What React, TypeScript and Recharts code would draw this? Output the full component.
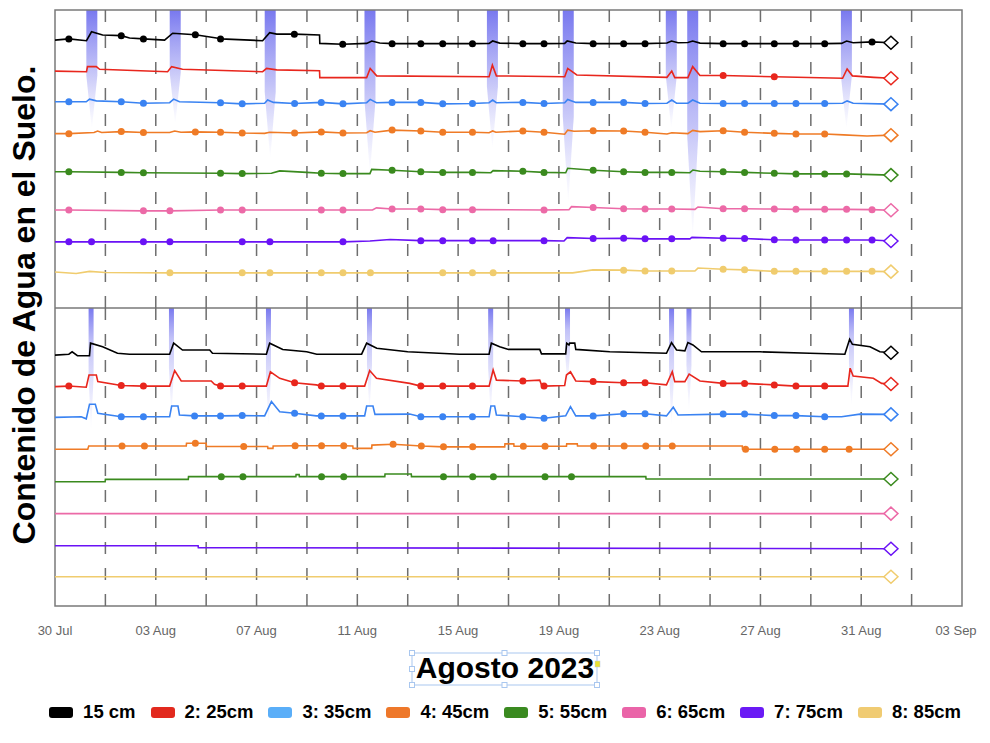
import { Bar, BarChart, ComposedChart, Line, ReferenceArea, ReferenceLine, XAxis, YAxis } from 'recharts'

// x = days since 30 Jul 2023 00:00, y = panel scale 0..100 (each depth drawn in its own band)
type Pt = [number, number, number?] // [day, value, dot]

const tickDays = [0, 4, 8, 12, 16, 20, 24, 28, 32, 36]
const tickLabels = ['30 Jul', '03 Aug', '07 Aug', '11 Aug', '15 Aug', '19 Aug', '23 Aug', '27 Aug', '31 Aug', '03 Sep']
const gridDays = [2, 4, 6, 8, 10, 12, 14, 16, 18, 20, 22, 24, 26, 28, 30, 32, 34]

const depthNames = ['15 cm', '2: 25cm', '3: 35cm', '4: 45cm', '5: 55cm', '6: 65cm', '7: 75cm', '8: 85cm']
const lineColors = ['#000000', '#e8261d', '#3a83f2', '#ef7b26', '#3a8a1e', '#ec6aa7', '#6a12f5', '#f0cc6e']
const swatchColors = ['#000000', '#e2291e', '#5aaef8', '#ee782a', '#3a8a20', '#ea64a8', '#6a1af5', '#f0cb72']

// rain (mm) - top station
const rainTopDays = [1.47, 4.78, 8.55, 12.51, 17.37, 20.38, 24.47, 25.32, 31.42]
const rainTopMm = [24, 23, 30, 33, 28, 39, 24, 46, 24]
// rain (mm) - bottom station
const rainBottomDays = [1.44, 4.63, 8.48, 12.49, 17.3, 20.35, 24.48, 25.17, 31.62]
const rainBottomMm = [25, 22, 24, 21, 22, 16, 24, 21, 20]

const top15: Pt[] = [
  [0, 89.9], [0.55, 90.3, 1], [1.25, 89.7], [1.45, 92.7], [1.89, 91.6], [2.63, 91.4, 1], [2.96, 90.6],
  [3.51, 90.3, 1], [4.35, 89.9], [4.67, 92.2], [5.57, 91.7, 1], [6.41, 90.6], [6.57, 90.3, 1], [8.24, 89.7],
  [8.52, 92.4], [8.8, 91.9], [9.5, 91.9, 1], [10.5, 91.6], [10.51, 88.8], [11.42, 88.5, 1], [12.37, 88.8],
  [12.57, 89.6], [12.89, 88.9], [13.38, 88.7, 1], [14.52, 88.7, 1], [15.39, 88.7, 1], [16.57, 88.7, 1],
  [17.23, 88.8], [17.37, 89.6], [17.65, 88.9], [18.57, 88.7, 1], [19.41, 88.7, 1], [20.23, 88.8], [20.33, 89.6],
  [20.67, 88.9], [21.36, 88.7, 1], [22.57, 88.7, 1], [23.42, 88.7, 1], [24.29, 88.9], [24.47, 89.6], [24.73, 89.0],
  [25.12, 89.1], [25.31, 89.6], [25.6, 88.9], [26.52, 88.7, 1], [27.37, 88.7, 1], [28.55, 88.7, 1], [29.41, 88.7, 1],
  [30.55, 88.7, 1], [31.22, 88.8], [31.42, 89.6], [31.68, 89.0], [32.43, 89.3, 1], [33.18, 89.0],
]
const top25: Pt[] = [
  [0, 79.5], [1.25, 79.3], [1.29, 81.0], [1.64, 81.0], [1.77, 80.1], [4.47, 79.3], [4.63, 81.0], [5.06, 80.1],
  [8.24, 79.3], [8.4, 80.4], [8.8, 79.9], [10.5, 79.6], [10.51, 77.3], [12.37, 77.3], [12.51, 80.4], [12.77, 77.9],
  [17.23, 77.6], [17.36, 81.5], [17.52, 77.9], [20.23, 77.6], [20.35, 80.4], [20.71, 78.2], [24.29, 77.4],
  [24.48, 79.5], [24.6, 77.3], [25.12, 77.3], [25.31, 81.0], [25.6, 78.0], [26.52, 78.0, 1], [28.55, 77.6, 1],
  [31.26, 77.1], [31.44, 80.2], [31.65, 77.9], [32.5, 77.4], [33.18, 77.1],
]
const top35: Pt[] = [
  [0, 69.2], [0.55, 69.2, 1], [1.24, 69.2], [1.37, 70.1], [1.64, 69.5], [2.63, 69.2, 1], [3.51, 68.7, 1],
  [4.55, 68.9], [4.71, 70.1], [4.94, 69.2], [6.57, 68.9, 1], [7.43, 68.5, 1], [8.32, 68.7], [8.44, 69.8],
  [8.67, 69.0], [9.51, 68.6, 1], [10.57, 69.0, 1], [11.43, 68.5, 1], [12.37, 68.9], [12.51, 70.0], [12.76, 68.9],
  [13.38, 69.0, 1], [14.52, 69.0, 1], [15.39, 68.5, 1], [16.57, 68.6, 1], [17.23, 68.9], [17.37, 69.8],
  [17.52, 68.9], [18.57, 69.0, 1], [19.41, 68.6, 1], [20.23, 68.9], [20.35, 70.0], [20.67, 69.0], [21.36, 69.0, 1],
  [22.57, 69.0, 1], [23.42, 68.6, 1], [24.29, 68.7], [24.48, 69.8], [24.67, 68.7], [25.12, 68.7], [25.31, 69.8],
  [25.6, 68.7], [26.52, 68.6, 1], [27.37, 68.6, 1], [28.55, 68.6, 1], [29.41, 68.6, 1], [30.55, 68.6, 1],
  [31.26, 68.7], [31.44, 69.5], [31.68, 68.7], [33.18, 68.4],
]
const top45: Pt[] = [
  [0, 58.5], [0.55, 58.5, 1], [1.55, 58.9], [1.69, 59.4], [1.85, 58.9], [2.63, 59.2, 1], [3.51, 58.9, 1],
  [4.55, 58.9], [4.75, 59.4], [5.0, 59.0], [5.57, 59.1, 1], [6.57, 59.0, 1], [7.43, 58.7, 1], [8.32, 58.6],
  [8.52, 59.0], [9.51, 58.7, 1], [10.57, 59.1, 1], [11.43, 58.7, 1], [12.37, 58.8], [12.51, 59.5], [12.7, 59.0],
  [13.38, 59.7, 1], [14.52, 59.4, 1], [15.39, 59.0, 1], [16.57, 59.0, 1], [17.23, 58.8], [17.37, 59.4],
  [17.5, 59.0], [18.57, 59.4, 1], [19.41, 59.0, 1], [20.23, 58.3], [20.35, 59.7], [20.6, 59.3], [21.36, 59.5, 1],
  [22.57, 59.4, 1], [23.42, 59.0, 1], [24.29, 58.4], [24.48, 58.8], [25.12, 58.5], [25.31, 59.6], [25.6, 59.2],
  [26.52, 59.5, 1], [27.37, 59.0, 1], [28.55, 58.6, 1], [29.41, 58.4, 1], [30.55, 58.4, 1], [31.3, 58.1],
  [32.23, 57.7], [33.18, 58.0],
]
const top55: Pt[] = [
  [0, 45.7], [0.55, 45.7, 1], [2.63, 45.5, 1], [3.51, 45.4, 1], [6.57, 45.2, 1], [7.43, 45.1, 1], [8.59, 45.2],
  [8.92, 46.0], [9.99, 45.5], [10.57, 45.2, 1], [11.43, 45.1, 1], [12.5, 45.1], [12.57, 46.5], [13.38, 46.2, 1],
  [14.52, 45.7, 1], [15.39, 45.5, 1], [16.57, 45.5, 1], [17.3, 45.4], [17.39, 46.1], [18.57, 45.9, 1],
  [19.41, 45.5, 1], [20.27, 45.4], [20.35, 46.9], [21.36, 46.2, 1], [22.57, 45.7, 1], [23.42, 45.5, 1],
  [24.48, 45.5, 1], [25.2, 45.4], [25.32, 46.3], [25.6, 45.9], [26.52, 45.7, 1], [27.37, 45.5, 1],
  [28.55, 45.2, 1], [29.41, 45.0, 1], [30.55, 45.0, 1], [31.42, 45.0, 1], [33.18, 44.6],
]
const top65: Pt[] = [
  [0, 32.9], [0.55, 32.9, 1], [3.51, 32.6, 1], [4.56, 32.6, 1], [6.57, 32.9, 1], [7.43, 32.9, 1], [10.57, 32.9, 1],
  [11.43, 32.9, 1], [12.6, 32.9], [12.76, 33.6], [13.38, 33.2, 1], [14.52, 33.2, 1], [15.39, 33.0, 1],
  [16.57, 33.0, 1], [19.41, 32.9, 1], [20.4, 33.0], [20.5, 34.0], [21.36, 33.7, 1], [22.57, 33.3, 1],
  [23.42, 33.2, 1], [24.48, 33.2, 1], [25.4, 33.1], [25.52, 33.9], [26.52, 33.3, 1], [27.37, 33.3, 1],
  [28.55, 33.2, 1], [29.41, 33.1, 1], [30.55, 33.1, 1], [31.42, 33.1, 1], [32.43, 33.0, 1], [33.18, 32.8],
]
const top75: Pt[] = [
  [0, 22.2], [0.55, 22.2, 1], [1.45, 22.2, 1], [3.51, 22.2, 1], [4.56, 22.2, 1], [7.43, 22.2, 1], [8.53, 22.2, 1],
  [11.43, 22.2, 1], [12.5, 22.5], [13.3, 23.0], [14.52, 22.6, 1], [15.39, 22.6, 1], [16.57, 22.6, 1],
  [17.39, 22.6, 1], [19.41, 22.6, 1], [20.2, 22.5], [20.33, 23.6], [21.36, 23.3, 1], [22.57, 23.4, 1],
  [23.42, 23.2, 1], [24.48, 23.2, 1], [25.2, 23.2], [25.28, 23.7], [26.52, 23.4, 1], [27.37, 23.3, 1],
  [28.55, 22.9, 1], [29.41, 22.8, 1], [30.55, 22.8, 1], [31.42, 22.8, 1], [32.43, 22.8, 1], [33.18, 22.5],
]
const top85: Pt[] = [
  [0, 12.1], [0.84, 11.6], [1.37, 12.3], [2.0, 11.9], [4.56, 11.8, 1], [7.43, 11.8, 1], [8.53, 11.8, 1],
  [10.57, 11.8, 1], [11.43, 11.8, 1], [12.52, 11.8, 1], [15.39, 11.8, 1], [16.57, 11.8, 1], [17.39, 11.8, 1],
  [20.55, 11.8], [21.35, 12.8], [22.57, 12.7, 1], [23.42, 12.4, 1], [24.48, 12.4, 1], [25.4, 12.4], [25.52, 13.4],
  [26.52, 13.0, 1], [27.37, 12.8, 1], [28.55, 12.3, 1], [29.41, 12.3, 1], [30.55, 12.3, 1], [31.42, 12.3, 1],
  [32.43, 12.3, 1], [33.18, 12.2],
]

const bot15: Pt[] = [
  [0, 84.2], [0.55, 84.5], [0.68, 85.3], [0.89, 84.0], [1.37, 84.0], [1.41, 88.2], [1.89, 87.0], [2.48, 84.8],
  [2.96, 84.5], [4.55, 84.5], [4.71, 88.2], [5.06, 85.9], [6.14, 85.9], [6.25, 84.8], [8.39, 84.5], [8.52, 88.2],
  [9.04, 86.1], [9.99, 85.3], [10.39, 84.5], [12.17, 84.5], [12.37, 88.2], [12.77, 86.5], [14.0, 85.3],
  [16.06, 84.5], [17.23, 84.5], [17.32, 88.2], [17.65, 87.0], [18.0, 86.1], [19.24, 86.1], [19.31, 84.6],
  [20.27, 84.6], [20.31, 88.2], [20.4, 87.6], [20.43, 88.2], [20.63, 88.2], [20.67, 86.1], [22.02, 85.3],
  [24.27, 84.8], [24.47, 88.4], [24.67, 85.9], [25.0, 85.6], [25.12, 88.4], [25.32, 87.6], [25.66, 85.3],
  [27.98, 85.3], [29.96, 84.8], [31.35, 84.5], [31.54, 89.5], [31.65, 87.8], [32.35, 87.0], [32.74, 85.3],
  [33.18, 85.0],
]
const bot25: Pt[] = [
  [0, 73.6], [0.55, 73.8, 1], [1.24, 73.4], [1.35, 77.5], [1.64, 77.5], [1.7, 75.3], [2.63, 74.0, 1],
  [3.51, 73.8, 1], [4.55, 73.8], [4.75, 79.0], [5.01, 75.5], [6.2, 75.5], [6.33, 74.4], [6.57, 73.8, 1],
  [7.43, 73.8, 1], [8.39, 73.8], [8.55, 78.6], [8.92, 76.4], [9.51, 74.9, 1], [10.37, 74.2], [10.57, 73.8, 1],
  [11.43, 73.8, 1], [12.29, 73.8], [12.49, 79.0], [12.76, 76.4], [14.08, 74.7], [14.52, 73.8, 1],
  [15.39, 73.8, 1], [16.57, 73.8, 1], [17.23, 73.8], [17.39, 79.2], [17.52, 75.8], [18.57, 75.5, 1],
  [19.24, 75.8], [19.31, 74.2], [19.41, 73.8, 1], [20.23, 74.0], [20.3, 77.5], [20.46, 78.6], [20.67, 75.5],
  [21.36, 75.3, 1], [22.57, 74.9, 1], [23.42, 74.9, 1], [24.27, 74.2], [24.5, 78.6], [24.6, 75.3], [25.0, 75.3],
  [25.17, 77.8], [25.6, 75.5], [26.52, 74.7, 1], [27.37, 74.7, 1], [28.55, 74.2, 1], [29.41, 73.8, 1],
  [30.55, 73.8, 1], [31.47, 73.8], [31.56, 79.8], [31.68, 77.2], [32.48, 76.4], [32.81, 74.7], [33.18, 74.5],
]
const bot35: Pt[] = [
  [0, 63.3], [1.04, 63.5], [1.24, 62.8], [1.37, 67.7], [1.6, 67.7], [1.7, 64.7], [2.63, 63.5, 1], [3.51, 63.5, 1],
  [4.55, 63.5], [4.63, 67.1], [4.88, 67.1], [4.94, 64.1], [5.54, 63.8, 1], [6.57, 63.8, 1], [7.43, 63.9, 1],
  [8.32, 63.8], [8.59, 68.6], [8.92, 65.2], [9.51, 64.7, 1], [10.37, 63.8], [10.57, 63.8, 1], [11.43, 63.8, 1],
  [12.29, 63.8], [12.37, 67.1], [12.62, 67.1], [12.7, 64.3], [14.08, 64.4], [14.52, 63.5, 1], [15.39, 63.5, 1],
  [16.57, 63.5, 1], [17.23, 63.5], [17.3, 67.1], [17.45, 67.1], [17.52, 64.1], [18.57, 63.5, 1], [19.41, 63.0, 1],
  [20.27, 63.8], [20.46, 66.9], [20.67, 63.8], [21.36, 63.8, 1], [22.57, 64.5, 1], [23.42, 64.5, 1],
  [24.27, 63.8], [24.54, 66.7], [24.73, 64.1], [26.52, 64.4, 1], [27.37, 64.4, 1], [28.55, 63.9, 1],
  [29.41, 63.9, 1], [30.55, 63.5, 1], [31.22, 63.5], [31.95, 64.4], [33.18, 64.3],
]
const bot45: Pt[] = [
  [0, 52.6], [1.3, 52.6], [1.34, 53.7], [2.66, 53.7, 1], [3.55, 53.7, 1], [5.21, 53.7], [5.22, 54.6],
  [5.57, 54.6, 1], [6.0, 54.6], [6.01, 53.5], [7.49, 53.5, 1], [8.44, 53.5], [8.45, 52.9], [8.65, 52.9],
  [8.66, 53.7], [9.53, 53.8, 1], [10.58, 53.8, 1], [11.46, 53.8, 1], [11.82, 53.7], [11.83, 52.9], [12.57, 52.9],
  [12.58, 54.0], [13.42, 54.3, 1], [14.54, 53.7, 1], [15.42, 53.4, 1], [16.58, 53.4, 1], [17.85, 53.4],
  [17.86, 54.4], [18.21, 54.4], [18.22, 53.6], [18.59, 53.6, 1], [19.45, 53.6, 1], [20.3, 53.6], [20.31, 54.4],
  [20.73, 54.4], [20.74, 53.7], [21.38, 53.7, 1], [22.59, 53.7, 1], [23.45, 53.7, 1], [24.5, 53.7, 1],
  [27.28, 53.7], [27.29, 52.6], [27.41, 52.6, 1], [28.57, 52.6, 1], [29.44, 52.6, 1], [30.55, 52.6, 1],
  [31.52, 52.6, 1], [33.18, 52.6],
]
const bot55: Pt[] = [
  [0, 41.7], [1.99, 41.7], [2.0, 42.5], [5.29, 42.5], [5.3, 43.4], [6.6, 43.4, 1], [7.46, 43.4, 1], [9.56, 43.4],
  [9.57, 44.1], [9.69, 44.1], [9.7, 43.4], [10.58, 43.4, 1], [11.46, 43.4, 1], [13.09, 43.4], [13.1, 44.3],
  [14.14, 44.3], [14.15, 43.4], [15.42, 43.4, 1], [16.58, 43.4, 1], [17.4, 43.4, 1], [19.45, 43.4, 1],
  [20.5, 43.4, 1], [23.45, 43.4], [23.46, 42.6], [33.18, 42.6],
]
const bot65: Pt[] = [[0, 31.0], [33.18, 31.0]]
const bot75: Pt[] = [[0, 20.2], [5.68, 20.2], [5.69, 19.6], [33.18, 19.2]]
const bot85: Pt[] = [[0, 9.8], [33.18, 9.8]]

const topSeries = [top15, top25, top35, top45, top55, top65, top75, top85]
const bottomSeries = [bot15, bot25, bot35, bot45, bot55, bot65, bot75, bot85]

const FONT = '"Liberation Sans", Arial, sans-serif'

const toRows = (pts: Pt[]) =>
  pts.map(([d, v, m], i) => ({ d, v, m: !!m, last: i === pts.length - 1 }))

const dotFor = (color: string) => (p: any) => {
  const { cx, cy, index, payload } = p
  if (payload.last) {
    return (
      <path
        key={index}
        d={`M${cx - 7},${cy} L${cx},${cy - 6.5} L${cx + 7},${cy} L${cx},${cy + 6.5} Z`}
        fill="#fff"
        stroke={color}
        strokeWidth={1.5}
      />
    )
  }
  if (payload.m) return <circle key={index} cx={cx} cy={cy} r={3.5} fill={color} />
  return <g key={index} />
}

// rain column hanging from the top edge, fading and tapering downwards
function RainShape(props: any) {
  const { x, y, width, height, fill } = props
  const top = Math.min(y, y + height)
  const h = Math.abs(height)
  const mid = top + h * 0.55
  const cx = x + width / 2
  return <path d={`M${x},${top} H${x + width} V${mid} L${cx},${top + h} L${x},${mid} Z`} fill={fill} />
}

function DayTick(props: any) {
  const { x, y, payload } = props
  const i = tickDays.indexOf(payload.value)
  const shift = i === tickDays.length - 1 ? -6 : 0
  return (
    <text x={x + shift} y={y + 29} textAnchor="middle" fontSize={13} fill="#666" fontFamily={FONT}>
      {tickLabels[i]}
    </text>
  )
}

type PanelProps = {
  series: Pt[][]
  rainDays: number[]
  rainMm: number[]
  gid: string
  barWidth: number
  showAxis: boolean
}

function Panel({ series, rainDays, rainMm, gid, barWidth, showAxis }: PanelProps) {
  const rain = rainDays.map((d, i) => ({ d, mm: rainMm[i] }))
  const h = showAxis ? 338 : 308
  const margin = { top: showAxis ? 0 : 10, right: 28, bottom: 0, left: 55 }
  return (
    <div style={{ position: 'relative', width: 990, height: h }}>
      {/* rain layer, kept in its own chart so the bar width isn't squeezed by the dense line points */}
      <div style={{ position: 'absolute', left: 0, top: 0 }}>
        <BarChart width={990} height={h} data={rain} margin={{ ...margin, bottom: showAxis ? 40 : 0 }}>
          <defs>
            <linearGradient id={gid} x1="0" y1="0" x2="0" y2="1">
              <stop offset="0%" stopColor="#7171ee" stopOpacity={0.95} />
              <stop offset={showAxis ? '28%' : '50%'} stopColor="#8585f0" stopOpacity={0.5} />
              <stop offset="100%" stopColor="#a5a5f5" stopOpacity={0} />
            </linearGradient>
          </defs>
          <XAxis type="number" dataKey="d" domain={[0, 36]} ticks={tickDays} hide />
          <YAxis type="number" domain={[0, 60]} reversed hide />
          <Bar dataKey="mm" barSize={barWidth} fill={`url(#${gid})`} shape={<RainShape />} isAnimationActive={false} />
        </BarChart>
      </div>
      <div style={{ position: 'absolute', left: 0, top: 0 }}>
        <ComposedChart width={990} height={h} margin={margin}>
          <XAxis
            type="number"
            dataKey="d"
            domain={[0, 36]}
            ticks={tickDays}
            interval={0}
            hide={!showAxis}
            axisLine={false}
            tickLine={false}
            tickSize={0}
            tickMargin={0}
            height={40}
            tick={<DayTick />}
          />
          <YAxis yAxisId="v" type="number" domain={[0, 100]} hide />
          {gridDays.map((d) => (
            <ReferenceLine key={d} x={d} yAxisId="v" stroke="#6e6e6e" strokeWidth={1.5} strokeDasharray="12 14" />
          ))}
          {series.map((pts, i) => (
            <Line
              key={depthNames[i]}
              name={depthNames[i]}
              data={toRows(pts)}
              dataKey="v"
              yAxisId="v"
              type="linear"
              stroke={lineColors[i]}
              strokeWidth={1.6}
              dot={dotFor(lineColors[i])}
              activeDot={false}
              isAnimationActive={false}
            />
          ))}
          <ReferenceArea
            x1={0}
            x2={36}
            y1={0}
            y2={100}
            yAxisId="v"
            fill="none"
            fillOpacity={0}
            stroke="#7a7a7a"
            strokeWidth={1.5}
            ifOverflow="visible"
          />
        </ComposedChart>
      </div>
    </div>
  )
}

export default function App() {
  return (
    <div style={{ position: 'absolute', left: 0, top: 0, width: 990, height: 743, background: '#fff', fontFamily: FONT }}>
      <div style={{ position: 'absolute', left: 0, top: 0 }}>
        <Panel series={topSeries} rainDays={rainTopDays} rainMm={rainTopMm} gid="rainTop" barWidth={11} showAxis={false} />
      </div>
      <div style={{ position: 'absolute', left: 0, top: 308 }}>
        <Panel series={bottomSeries} rainDays={rainBottomDays} rainMm={rainBottomMm} gid="rainBottom" barWidth={5} showAxis />
      </div>

      <svg width={990} height={743} style={{ position: 'absolute', left: 0, top: 0, pointerEvents: 'none' }}>
        <text
          transform="translate(35,305) rotate(-90)"
          textAnchor="middle"
          fontSize={32}
          fontWeight="bold"
          fontFamily={FONT}
          fill="#000"
        >
          Contenido de Agua en el Suelo.
        </text>
        <text x={505} y={678} textAnchor="middle" fontSize={30} fontWeight="bold" fontFamily={FONT} fill="#000">
          Agosto 2023
        </text>
        <rect x={412} y={653} width={185} height={32} fill="none" stroke="#a9c7ef" strokeWidth={1} />
        {[
          [412, 653], [504.5, 653], [597, 653], [412, 669], [412, 685], [504.5, 685], [597, 685],
        ].map(([hx, hy], i) => (
          <rect key={i} x={hx - 2.5} y={hy - 2.5} width={5} height={5} fill="#fff" stroke="#a9c7ef" strokeWidth={1} />
        ))}
        <rect x={595} y={661} width={5} height={6} fill="#e8e030" stroke="#b8c8e0" strokeWidth={0.5} />
      </svg>

      <div
        style={{
          position: 'absolute',
          left: 0,
          top: 700,
          width: 990,
          height: 24,
          display: 'flex',
          justifyContent: 'center',
          alignItems: 'center',
          gap: 15,
          paddingLeft: 20,
          boxSizing: 'border-box',
        }}
      >
        {depthNames.map((n, i) => (
          <div key={n} style={{ display: 'flex', alignItems: 'center' }}>
            <span
              style={{
                display: 'inline-block',
                width: 24,
                height: 11,
                borderRadius: 3,
                background: swatchColors[i],
                marginRight: 10,
              }}
            />
            <span style={{ fontSize: 18.5, fontWeight: 'bold', color: '#000', lineHeight: '24px' }}>{n}</span>
          </div>
        ))}
      </div>
    </div>
  )
}
